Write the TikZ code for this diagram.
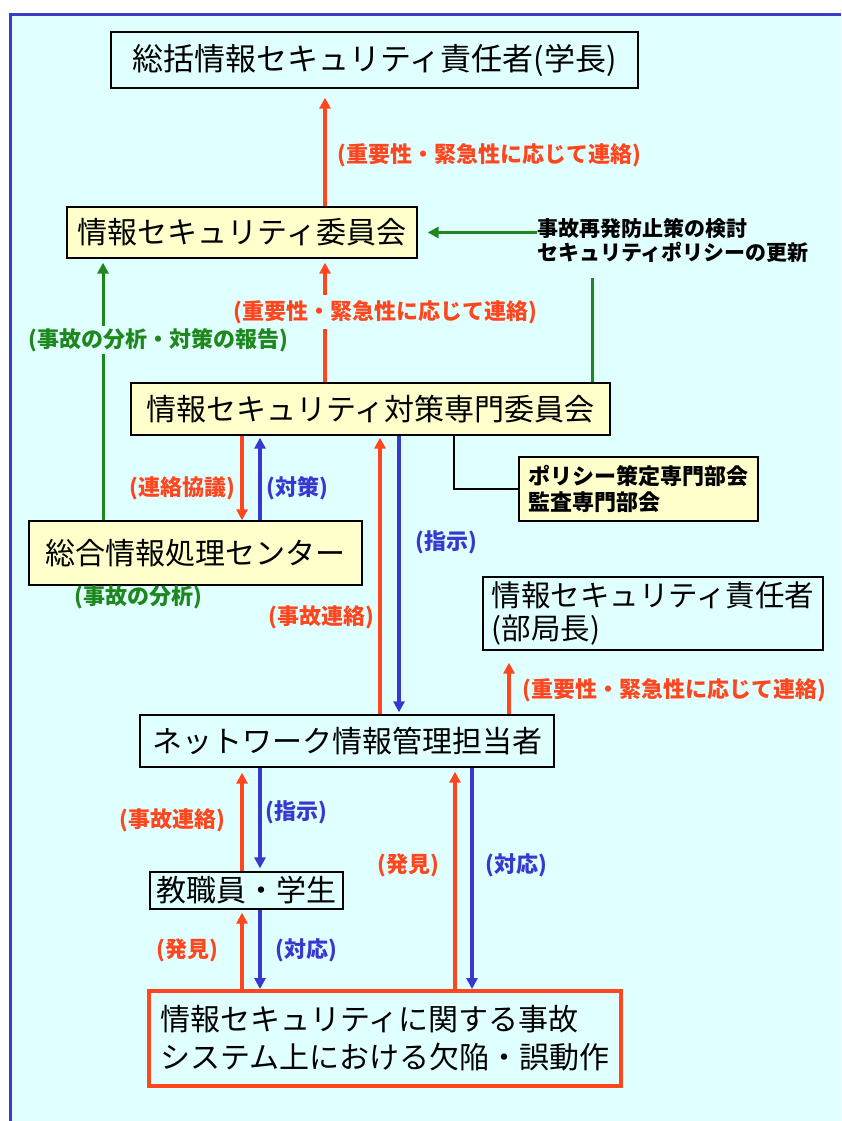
\documentclass[tikz,border=0pt]{standalone}
\usepackage{fontspec}
\setmainfont{Noto Sans CJK JP}
\usetikzlibrary{arrows.meta}
\definecolor{bg}{RGB}{224,255,255}
\definecolor{ybox}{RGB}{255,255,204}
\definecolor{rc}{RGB}{255,70,30}
\definecolor{bc}{RGB}{56,56,208}
\definecolor{gc}{RGB}{30,135,30}
\definecolor{fc}{RGB}{60,60,200}
\newcommand\mainsz{\fontsize{30pt}{36pt}\selectfont}
\newcommand\labsz{\fontsize{22pt}{26pt}\selectfont}
\newcommand\smsz{\fontsize{21pt}{24pt}\selectfont}
\begin{document}
\begin{tikzpicture}[x=1pt,y=-1pt,
  box/.style={draw=black, line width=1.3pt, inner sep=0pt, font=\mainsz},
  yb/.style={box, fill=ybox},
  lab/.style={font=\labsz\bfseries, inner sep=1pt},
  ar/.style={line width=3.5pt, -{Triangle[length=11pt,width=11pt]}},
  gline/.style={line width=3pt, gc}]
\useasboundingbox (0,0) rectangle (841,1121);
\fill[white] (0,0) rectangle (841,1121);
\fill[bg] (10,14) rectangle (841,1121);
\draw[fc, line width=3pt] (10.5,1121) -- (10.5,14.5) -- (841,14.5);

% column coordinates
\coordinate (xA) at (103,0);
\coordinate (xB) at (242,0);
\coordinate (xC) at (260,0);
\coordinate (xD) at (325,0);
\coordinate (xE) at (380,0);
\coordinate (xF) at (399,0);
\coordinate (xG) at (455,0);
\coordinate (xH) at (472,0);
\coordinate (xI) at (509,0);
\coordinate (xJ) at (592,0);
\coordinate (xK) at (454,0);

% boxes
\node[box, minimum width=527pt, minimum height=56pt, font=\fontsize{31pt}{36pt}\selectfont] (top) at (374.5,60) {総括情報セキュリティ責任者(学長)};
\node[yb, minimum width=350pt, minimum height=51pt] (ctee) at (242,232.5) {情報セキュリティ委員会};
\node[font=\smsz\bfseries, align=left, anchor=west, inner sep=0pt] (rtext) at (537,240) {事故再発防止策の検討\\セキュリティポリシーの更新};
\node[yb, minimum width=479pt, minimum height=52pt] (tctee) at (370.5,409) {情報セキュリティ対策専門委員会};
\node[yb, font=\labsz\bfseries, align=left, minimum width=239pt, minimum height=64pt] (sub) at (638.5,489) {ポリシー策定専門部会\\監査専門部会};
\node[yb, minimum width=333pt, minimum height=64pt] (center) at (195.5,553) {総合情報処理センター};
\node[box, align=left, minimum width=340pt, minimum height=73pt, font=\fontsize{29.5pt}{33pt}\selectfont] (bukyoku) at (653,613.5) {情報セキュリティ責任者\\(部局長)};
\node[box, minimum width=414pt, minimum height=52pt] (net) at (347,741) {ネットワーク情報管理担当者};
\node[box, minimum width=193pt, minimum height=37pt] (staff) at (246.5,890.5) {教職員・学生};
\node[box, draw=rc, line width=4pt, align=left, minimum width=472pt, minimum height=95pt, font=\fontsize{30pt}{38pt}\selectfont] (inc) at (385,1038.5) {情報セキュリティに関する事故\\システム上における欠陥・誤動作};

% connectors
\draw[ar, rc, shorten >=9pt] (ctee.north -| xD) -- (top.south -| xD);
\draw[ar, gc, line width=3pt, shorten >=10pt] (rtext.west |- ctee.east) -- (ctee.east);
\draw[gline, shorten <=16pt] (rtext.south -| xJ) -- (tctee.north -| xJ);
\draw[ar, gc, line width=3pt, shorten >=4pt] (center.north -| xA) -- (ctee.south -| xA);
\draw[ar, rc, shorten >=4pt] (tctee.north -| xD) -- (ctee.south -| xD);
\draw[line width=2.5pt] (tctee.south -| xK) |- (sub.west);
\draw[ar, rc] (tctee.south -| xB) -- (center.north -| xB);
\draw[ar, bc, shorten >=2pt] (center.north -| xC) -- (tctee.south -| xC);
\draw[ar, rc, shorten >=2pt] (net.north -| xE) -- (tctee.south -| xE);
\draw[ar, bc, shorten >=2pt] (tctee.south -| xF) -- (net.north -| xF);
\draw[ar, rc, shorten >=12pt] (net.north -| xI) -- (bukyoku.south -| xI);
\draw[ar, rc, shorten >=5pt] (staff.north -| xB) -- (net.south -| xB);
\draw[ar, bc, shorten >=3pt] (net.south -| xC) -- (staff.north -| xC);
\draw[ar, rc, shorten >=4pt] (inc.north -| xG) -- (net.south -| xG);
\draw[ar, bc] (net.south -| xH) -- (inc.north -| xH);
\draw[ar, rc, shorten >=3pt] (inc.north -| xB) -- (staff.south -| xB);
\draw[ar, bc] (staff.south -| xC) -- (inc.north -| xC);

% labels
\node[lab, rc] (l1) at (489,155) {(重要性・緊急性に応じて連絡)};
\node[lab, rc, fill=bg, inner ysep=5pt] (l2) at (385,312) {(重要性・緊急性に応じて連絡)};
\node[lab, gc, fill=bg, inner ysep=2pt] (l3) at (158,340) {(事故の分析・対策の報告)};
\node[lab, rc, anchor=east] (l4) at (236,488) {(連絡協議)};
\node[lab, bc, anchor=west] (l5) at (265,488) {(対策)};
\node[lab, bc, anchor=west] (l6) at (414,542) {(指示)};
\node[lab, gc, anchor=west] (l7) at (73,597) {(事故の分析)};
\node[lab, rc, anchor=east] (l8) at (375,617) {(事故連絡)};
\node[lab, rc, anchor=west] (l9) at (521,690) {(重要性・緊急性に応じて連絡)};
\node[lab, rc, anchor=east] (l10) at (226,820) {(事故連絡)};
\node[lab, bc, anchor=west] (l11) at (264,812) {(指示)};
\node[lab, rc, anchor=east] (l12) at (440,865) {(発見)};
\node[lab, bc, anchor=west] (l13) at (484,865) {(対応)};
\node[lab, rc, anchor=east] (l14) at (219,950) {(発見)};
\node[lab, bc, anchor=west] (l15) at (274,950) {(対応)};
\end{tikzpicture}
\end{document}
